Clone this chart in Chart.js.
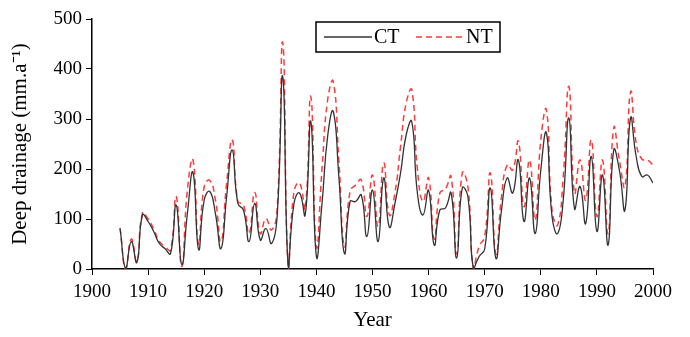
<!DOCTYPE html>
<html>
<head>
<meta charset="utf-8">
<script src="https://cdn.jsdelivr.net/npm/chart.js@4.4.1/dist/chart.umd.min.js"></script>
<style>
  html, body { margin: 0; padding: 0; background: #fff; }
  #wrap { width: 690px; height: 337px; position: relative; }
</style>
</head>
<body>
<div id="wrap"><canvas id="chart"></canvas></div>
<script>
// Annual deep drainage, 1905-2000
const years = [];
for (let y = 1905; y <= 2000; y++) years.push(y);

const ctValues = [
  81, 1, 55, 13, 108, 95, 75, 51, 41, 31,          // 1905-1914
  128, 9, 111, 193, 39, 138, 155, 111, 41, 145,    // 1915-1924
  238, 131, 118, 55, 131, 58, 81, 51, 105, 385,    // 1925-1934
  3, 131, 152, 108, 295, 25, 131, 265, 315, 185,   // 1935-1944
  31, 135, 135, 148, 65, 158, 55, 182, 84, 131,    // 1945-1954
  192, 268, 295, 152, 108, 157, 48, 118, 122, 152, // 1955-1964
  22, 162, 145, 0, 25, 40, 162, 21, 118, 182,      // 1965-1974
  152, 218, 95, 182, 71, 198, 272, 105, 71, 138,   // 1975-1984
  302, 121, 165, 91, 225, 75, 188, 48, 238, 198,   // 1985-1994
  118, 302, 225, 185, 188, 172                     // 1995-2000
];

const ntValues = [
  82, 0, 60, 15, 112, 100, 80, 55, 45, 38,         // 1905-1914
  145, 5, 158, 218, 50, 165, 177, 138, 55, 172,    // 1915-1924
  258, 135, 128, 71, 153, 71, 101, 78, 118, 452,   // 1925-1934
  0, 155, 172, 121, 345, 45, 200, 338, 375, 218,   // 1935-1944
  45, 155, 168, 178, 105, 188, 85, 212, 108, 152,  // 1945-1954
  245, 332, 358, 200, 135, 182, 60, 152, 160, 185, // 1955-1964
  30, 192, 165, 0, 45, 65, 192, 30, 145, 208,      // 1965-1974
  198, 255, 125, 218, 98, 258, 318, 118, 88, 185,  // 1975-1984
  365, 152, 218, 138, 258, 105, 218, 71, 282, 218, // 1985-1994
  165, 354, 252, 220, 218, 208                     // 1995-2000
];

const xTicks = [1900, 1910, 1920, 1930, 1940, 1950, 1960, 1970, 1980, 1990, 2000];
const yTicks = [0, 50, 100, 150, 200, 250, 300, 350, 400, 450, 500];

const serif = '"Liberation Serif", "Times New Roman", serif';

// legend box drawn inside the plot, like the original
const boxLegend = {
  id: 'boxLegend',
  afterDraw(chart) {
    const ctx = chart.ctx;
    const a = chart.chartArea;
    const x0 = a.left + 224, y0 = a.top + 3, w = 184, h = 30;
    ctx.save();
    ctx.strokeStyle = '#000';
    ctx.lineWidth = 1.5;
    ctx.strokeRect(x0, y0, w, h);
    const my = y0 + h / 2;
    chart.data.datasets.forEach((ds, i) => {
      const lx = x0 + 8 + i * 92;
      ctx.beginPath();
      ctx.strokeStyle = ds.borderColor;
      ctx.lineWidth = ds.borderWidth;
      ctx.setLineDash(ds.borderDash || []);
      ctx.moveTo(lx, my);
      ctx.lineTo(lx + 48, my);
      ctx.stroke();
      ctx.setLineDash([]);
      ctx.fillStyle = '#000';
      ctx.font = '20px ' + serif;
      ctx.textBaseline = 'middle';
      ctx.fillText(ds.label, lx + 50, my + 1);
    });
    ctx.restore();
  }
};

new Chart(document.getElementById('chart'), {
  type: 'line',
  data: {
    datasets: [
      {
        label: 'CT',
        data: years.map((y, i) => ({ x: y, y: ctValues[i] })),
        borderColor: '#333333',
        borderWidth: 1.3,
        pointRadius: 0,
        tension: 0.5,
        fill: false,
      },
      {
        label: 'NT',
        data: years.map((y, i) => ({ x: y, y: ntValues[i] })),
        borderColor: '#ff3b3b',
        borderWidth: 1.5,
        borderDash: [6, 4],
        pointRadius: 0,
        tension: 0.5,
        fill: false,
      },
    ]
  },
  options: {
    responsive: true,
    maintainAspectRatio: false,
    animation: false,
    layout: { padding: { top: 19, right: 37, left: 4, bottom: 0 } },
    plugins: { legend: { display: false }, tooltip: { enabled: false } },
    scales: {
      x: {
        type: 'linear',
        min: 1900, max: 2000,
        afterBuildTicks: s => { s.ticks = xTicks.map(v => ({ value: v })); },
        ticks: { color: '#000', font: { family: serif, size: 19 }, maxRotation: 0, padding: 6, callback: v => String(v) },
        grid: { display: true, drawOnChartArea: false, drawTicks: true, tickLength: 6, color: '#000' },
        border: { color: '#000', width: 1.5 },
        title: { display: true, text: 'Year', color: '#000', font: { family: serif, size: 21, weight: 'normal' }, padding: { top: 10 } },
        afterFit: s => { s.height = 68; },
      },
      y: {
        min: 0, max: 500,
        afterBuildTicks: s => { s.ticks = yTicks.map(v => ({ value: v })); },
        ticks: { color: '#000', font: { family: serif, size: 19 }, padding: 4, callback: v => String(v) },
        grid: { display: true, drawOnChartArea: false, drawTicks: true, tickLength: 6, color: '#000' },
        border: { color: '#000', width: 1.5 },
        title: { display: true, text: 'Deep drainage (mm.a⁻¹)', color: '#000', font: { family: serif, size: 21, weight: 'normal' }, padding: { bottom: 2 } },
        afterFit: s => { s.width = 88; },
      }
    }
  },
  plugins: [boxLegend]
});
</script>
</body>
</html>
